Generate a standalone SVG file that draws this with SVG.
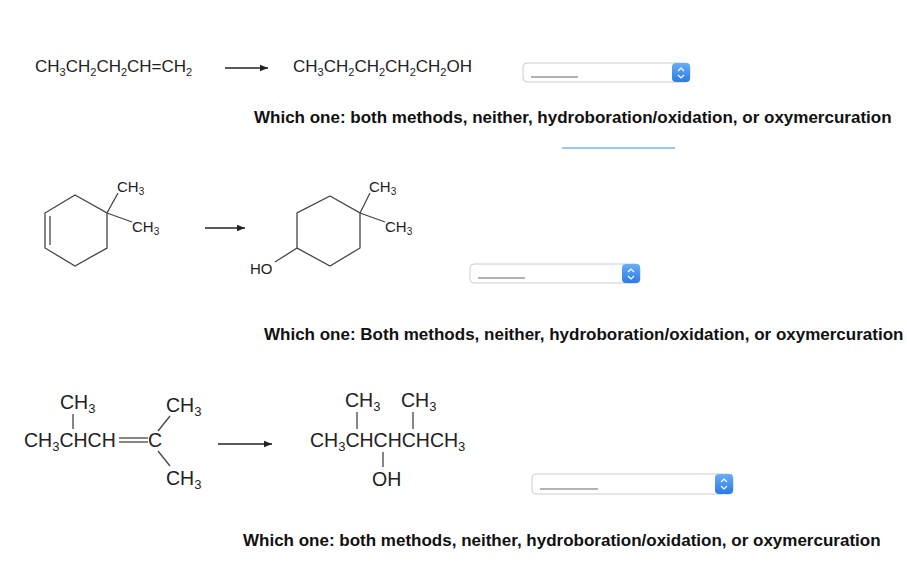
<svg xmlns="http://www.w3.org/2000/svg" width="907" height="586" viewBox="0 0 907 586">
<defs>
<marker id="ah" viewBox="0 0 10 10" refX="10" refY="5" markerWidth="10" markerHeight="8" orient="auto" markerUnits="userSpaceOnUse"><path d="M0,1 L10,5 L0,9 Z" fill="#222"/></marker>
<linearGradient id="bt" x1="0" y1="0" x2="0" y2="1"><stop offset="0" stop-color="#6aaef5"/><stop offset="1" stop-color="#2a7ae8"/></linearGradient>
</defs>
<style>
text{font-family:"Liberation Sans",Arial,sans-serif;fill:#222}
.f{font-size:17px}
.s{font-size:11px}
.g{font-size:19.5px}
.gs{font-size:13px}
.m{font-size:15px}
.ms{font-size:10px}
.q{font-size:17px;font-weight:bold;fill:#111}
.b{stroke:#444;stroke-width:1.3;fill:none}
.ar{stroke:#222;stroke-width:1.3;marker-end:url(#ah)}
.dd{fill:#fff;stroke:#ccc;stroke-width:1}
.ph{stroke:#999;stroke-width:1.3}
</style>
<rect width="907" height="586" fill="#fff"/>
<g id="connectors">
<line class="ar" x1="225" y1="68" x2="268" y2="68"/>
<line class="ar" x1="205" y1="228" x2="245" y2="228"/>
<line class="ar" x1="218" y1="444" x2="272" y2="444"/>
</g>
<g id="r1-reactant"><text class="f" x="35" y="72">CH<tspan class="s" dy="4">3</tspan><tspan dy="-4">CH</tspan><tspan class="s" dy="4">2</tspan><tspan dy="-4">CH</tspan><tspan class="s" dy="4">2</tspan><tspan dy="-4">CH=CH</tspan><tspan class="s" dy="4">2</tspan></text></g>
<g id="r1-product"><text class="f" x="293" y="72">CH<tspan class="s" dy="4">3</tspan><tspan dy="-4">CH</tspan><tspan class="s" dy="4">2</tspan><tspan dy="-4">CH</tspan><tspan class="s" dy="4">2</tspan><tspan dy="-4">CH</tspan><tspan class="s" dy="4">2</tspan><tspan dy="-4">CH</tspan><tspan class="s" dy="4">2</tspan><tspan dy="-4">OH</tspan></text></g>
<g id="dd1"><rect class="dd" x="523" y="63" width="167" height="19" rx="4"/><rect x="672" y="63" width="18" height="19" rx="4" fill="url(#bt)"/><path d="M678,71 l3,-3 l3,3 M678,75 l3,3 l3,-3" stroke="#fff" stroke-width="1.2" fill="none"/><line class="ph" x1="531" y1="77" x2="578" y2="77"/></g>
<g id="q1"><text class="q" x="254" y="123">Which one: both methods, neither, hydroboration/oxidation, or oxymercuration</text><line x1="562" y1="148" x2="675" y2="148" stroke="#9cc8ee" stroke-width="2"/></g>
<g id="r2-reactant">
<polygon class="b" points="75,195 107,213 107,248 75,266 45,248 45,213"/>
<line class="b" x1="50" y1="216" x2="50" y2="245"/>
<line class="b" x1="107" y1="213" x2="118" y2="193"/>
<line class="b" x1="107" y1="213" x2="132" y2="222"/>
<text class="m" x="117" y="192">CH<tspan class="ms" dy="3">3</tspan></text>
<text class="m" x="132" y="232">CH<tspan class="ms" dy="3">3</tspan></text>
</g>
<g id="r2-product">
<polygon class="b" points="330,196 360,213 360,248 330,266 297,248 297,213"/>
<line class="b" x1="360" y1="213" x2="370" y2="193"/>
<line class="b" x1="360" y1="213" x2="385" y2="222"/>
<line class="b" x1="297" y1="248" x2="275" y2="262"/>
<text class="m" x="369" y="192">CH<tspan class="ms" dy="3">3</tspan></text>
<text class="m" x="385" y="232">CH<tspan class="ms" dy="3">3</tspan></text>
<text class="m" x="250" y="274">HO</text>
</g>
<g id="dd2"><rect class="dd" x="470" y="264" width="170" height="19" rx="4"/><rect x="622" y="264" width="18" height="19" rx="4" fill="url(#bt)"/><path d="M628,272 l3,-3 l3,3 M628,276 l3,3 l3,-3" stroke="#fff" stroke-width="1.2" fill="none"/><line class="ph" x1="478" y1="278" x2="525" y2="278"/></g>
<g id="q2"><text class="q" x="264" y="340">Which one: Both methods, neither, hydroboration/oxidation, or oxymercuration</text></g>
<g id="r3-reactant">
<text class="g" x="60" y="409">CH<tspan class="gs" dy="4">3</tspan></text>
<line class="b" x1="73" y1="414" x2="73" y2="429"/>
<text class="g" x="24" y="447">CH<tspan class="gs" dy="4">3</tspan><tspan dy="-4">CHCH</tspan></text>
<line class="b" x1="119" y1="438" x2="148" y2="438"/><line class="b" x1="119" y1="442" x2="148" y2="442"/>
<text class="g" x="148" y="447">C</text>
<line class="b" x1="158" y1="431" x2="170" y2="416"/>
<line class="b" x1="158" y1="451" x2="170" y2="466"/>
<text class="g" x="166" y="412">CH<tspan class="gs" dy="4">3</tspan></text>
<text class="g" x="166" y="485">CH<tspan class="gs" dy="4">3</tspan></text>
</g>
<g id="r3-product">
<text class="g" x="345" y="407">CH<tspan class="gs" dy="4">3</tspan></text>
<text class="g" x="401" y="407">CH<tspan class="gs" dy="4">3</tspan></text>
<line class="b" x1="357" y1="412" x2="357" y2="429"/>
<line class="b" x1="413" y1="412" x2="413" y2="429"/>
<text class="g" x="310" y="447">CH<tspan class="gs" dy="4">3</tspan><tspan dy="-4">CHCHCHCH</tspan><tspan class="gs" dy="4">3</tspan></text>
<line class="b" x1="383" y1="452" x2="383" y2="467"/>
<text class="g" x="372" y="486">OH</text>
</g>
<g id="dd3"><rect class="dd" x="532" y="474" width="201" height="20" rx="4"/><rect x="715" y="474" width="18" height="20" rx="4" fill="url(#bt)"/><path d="M721,482 l3,-3 l3,3 M721,486 l3,3 l3,-3" stroke="#fff" stroke-width="1.2" fill="none"/><line class="ph" x1="540" y1="489" x2="598" y2="489"/></g>
<g id="q3"><text class="q" x="243" y="546">Which one: both methods, neither, hydroboration/oxidation, or oxymercuration</text></g>
</svg>
